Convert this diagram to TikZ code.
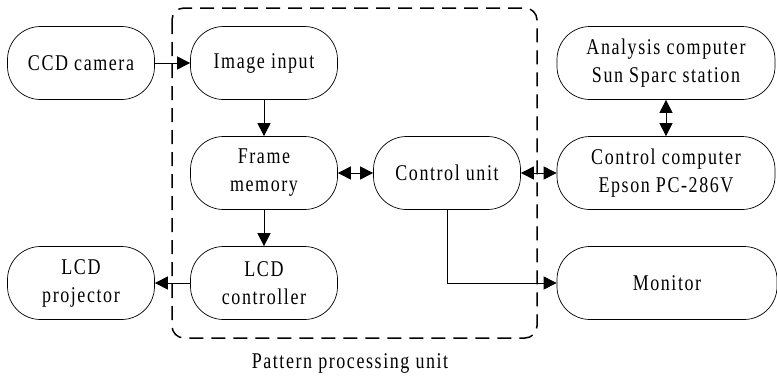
\documentclass[tikz,border=0pt]{standalone}
\usepackage{fontspec}
\setmainfont{Liberation Serif}[FakeStretch=0.8, LetterSpace=7]
\usetikzlibrary{arrows.meta}
\begin{document}
\begin{tikzpicture}[x=1pt,y=-1pt,
  blk/.style={draw, line width=0.7pt, rounded corners=33pt, minimum height=73pt,
    align=center, font=\fontsize{22.5}{28}\selectfont, inner sep=0pt},
  smallblk/.style={blk, minimum width=147pt},
  wideblk/.style={blk, minimum width=218pt},
  conn/.style={line width=0.7pt, -{Triangle[length=13pt,width=13pt]}},
  biconn/.style={line width=0.7pt, {Triangle[length=13pt,width=13pt]}-{Triangle[length=13pt,width=13pt]}},
  group/.style={line width=1.5pt, dash pattern=on 14pt off 8pt, rounded corners=12pt}]
\useasboundingbox (0,0) rectangle (777,383);
% processing unit boundary
\draw[group] (172,8) rectangle (537,338);
\node[font=\fontsize{22.5}{26}\selectfont] (plabel) at (350,363) {Pattern processing unit};
% blocks
\node[smallblk] (ccd) at (81,63) {CCD camera};
\node[smallblk] (img) at (264,63) {Image input};
\node[smallblk] (frm) at (264,173) {Frame\\memory};
\node[smallblk] (ctl) at (447,173) {Control unit};
\node[smallblk] (lcdp) at (81,283) {LCD\\projector};
\node[smallblk] (lcdc) at (264,283) {LCD\\controller};
\node[wideblk] (ana) at (666,63) {Analysis computer\\Sun Sparc station};
\node[wideblk] (cc) at (666,173) {Control computer\\Epson PC-286V};
\node[blk, minimum width=220pt] (mon) at (667,283) {Monitor};
% connectors
\draw[conn] (ccd) -- (img);
\draw[conn] (img) -- (frm);
\draw[conn] (frm) -- (lcdc);
\draw[conn] (lcdc) -- (lcdp);
\draw[biconn] (frm) -- (ctl);
\draw[biconn] (ctl) -- (cc);
\draw[biconn] (ana) -- (cc);
\draw[conn] (ctl) |- (mon);
\end{tikzpicture}
\end{document}
